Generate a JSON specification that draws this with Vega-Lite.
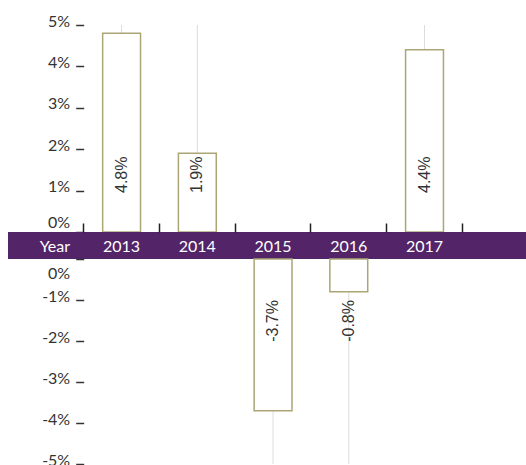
{
  "$schema": "https://vega.github.io/schema/vega-lite/v6.json",
  "padding": {"top": 13, "left": 8, "right": 0, "bottom": 0},
  "bounds": "flush",
  "data": {"values": [
    {"year": "2013", "value": 0.048},
    {"year": "2014", "value": 0.019},
    {"year": "2015", "value": -0.037},
    {"year": "2016", "value": -0.008},
    {"year": "2017", "value": 0.044}
  ]},
  "spacing": 0,
  "resolve": {"scale": {"x": "independent", "y": "independent"}},
  "vconcat": [
    {
      "width": 518,
      "height": 207,
      "transform": [{"filter": "datum.value > 0"}],
      "layer": [
        {
          "mark": {"type": "rule", "color": "#dcdcdc", "strokeWidth": 1},
          "encoding": {
            "x": {"field": "year", "type": "nominal", "axis": null, "scale": {"type": "band", "domain": ["Year","2013","2014","2015","2016","2017"], "paddingInner": 0, "paddingOuter": 0.42, "align": 0}},
            "y": {"datum": 0, "type": "quantitative", "scale": {"domain": [0, 0.05]}, "axis": {"values": [0, 0.01, 0.02, 0.03, 0.04, 0.05], "format": ".0%", "title": null, "orient": "left", "offset": -75.7, "domain": false, "grid": false, "ticks": true, "tickSize": 8, "tickWidth": 1.5, "tickColor": "#333333", "labelPadding": 6, "labelFont": "Lato", "labelFontSize": 16, "labelColor": "#333333", "labelBaseline": "alphabetic", "labelOffset": {"condition": {"test": "datum.value === 0", "value": -5}, "value": 1}}},
            "y2": {"datum": 0.05}
          }
        },
        {
          "mark": {"type": "bar", "fill": "#ffffff", "stroke": "#aca676", "strokeWidth": 1.5, "width": {"band": 0.5}},
          "encoding": {
            "x": {"field": "year", "type": "nominal"},
            "y": {"field": "value", "type": "quantitative"}
          }
        },
        {
          "mark": {"type": "text", "angle": 270, "align": "left", "baseline": "middle", "dx": 39, "font": "Liberation Sans", "fontSize": 16, "color": "#333333"},
          "encoding": {
            "x": {"field": "year", "type": "nominal"},
            "y": {"datum": 0, "type": "quantitative"},
            "text": {"field": "value", "type": "quantitative", "format": ".1%"}
          }
        }
      ]
    },
    {
      "width": 518,
      "height": 27,
      "view": {"fill": "#532568", "stroke": null},
      "layer": [
        {
          "mark": {"type": "text", "color": "#ffffff", "font": "Lato", "fontSize": 16, "baseline": "middle", "dy": 1},
          "encoding": {
            "x": {"field": "year", "type": "nominal", "scale": {"type": "band", "domain": ["Year","2013","2014","2015","2016","2017"], "paddingInner": 0, "paddingOuter": 0.42, "align": 0}, "axis": {"orient": "top", "labels": false, "domain": false, "grid": false, "ticks": true, "tickSize": 9, "tickWidth": 1.5, "tickColor": "#222222", "bandPosition": 1, "tickExtra": false, "title": null}},
            "text": {"field": "year", "type": "nominal"}
          }
        },
        {
          "data": {"values": [{"year": "Year"}]},
          "mark": {"type": "text", "color": "#ffffff", "font": "Lato", "fontSize": 16, "baseline": "middle", "dy": 1, "dx": 9},
          "encoding": {
            "x": {"field": "year", "type": "nominal"},
            "text": {"field": "year", "type": "nominal"}
          }
        }
      ]
    },
    {
      "width": 518,
      "height": 205,
      "transform": [{"filter": "datum.value < 0"}],
      "layer": [
        {
          "mark": {"type": "rule", "color": "#dcdcdc", "strokeWidth": 1},
          "encoding": {
            "x": {"field": "year", "type": "nominal", "axis": null, "scale": {"type": "band", "domain": ["Year","2013","2014","2015","2016","2017"], "paddingInner": 0, "paddingOuter": 0.42, "align": 0}},
            "y": {"datum": 0, "type": "quantitative", "scale": {"domain": [-0.05, 0]}, "axis": {"values": [0, -0.01, -0.02, -0.03, -0.04, -0.05], "format": ".0%", "title": null, "orient": "left", "offset": -75.7, "domain": false, "grid": false, "ticks": true, "tickSize": 8, "tickWidth": 1.5, "tickColor": "#333333", "labelPadding": 6, "labelFont": "Lato", "labelFontSize": 16, "labelColor": "#333333", "labelBaseline": "alphabetic", "labelOffset": {"condition": {"test": "datum.value === 0", "value": 19}, "value": 1}}},
            "y2": {"datum": -0.05}
          }
        },
        {
          "mark": {"type": "bar", "fill": "#ffffff", "stroke": "#aca676", "strokeWidth": 1.5, "width": {"band": 0.5}},
          "encoding": {
            "x": {"field": "year", "type": "nominal"},
            "y": {"field": "value", "type": "quantitative"}
          }
        },
        {
          "mark": {"type": "text", "angle": 270, "align": "right", "baseline": "middle", "dx": -41, "font": "Liberation Sans", "fontSize": 16, "color": "#333333"},
          "encoding": {
            "x": {"field": "year", "type": "nominal"},
            "y": {"datum": 0, "type": "quantitative"},
            "text": {"field": "value", "type": "quantitative", "format": ".1%"}
          }
        }
      ]
    }
  ],
  "config": {
    "view": {"stroke": null},
    "locale": {"number": {"decimal": ".", "thousands": ",", "grouping": [3], "currency": ["$", ""], "minus": "-"}}
  }
}
